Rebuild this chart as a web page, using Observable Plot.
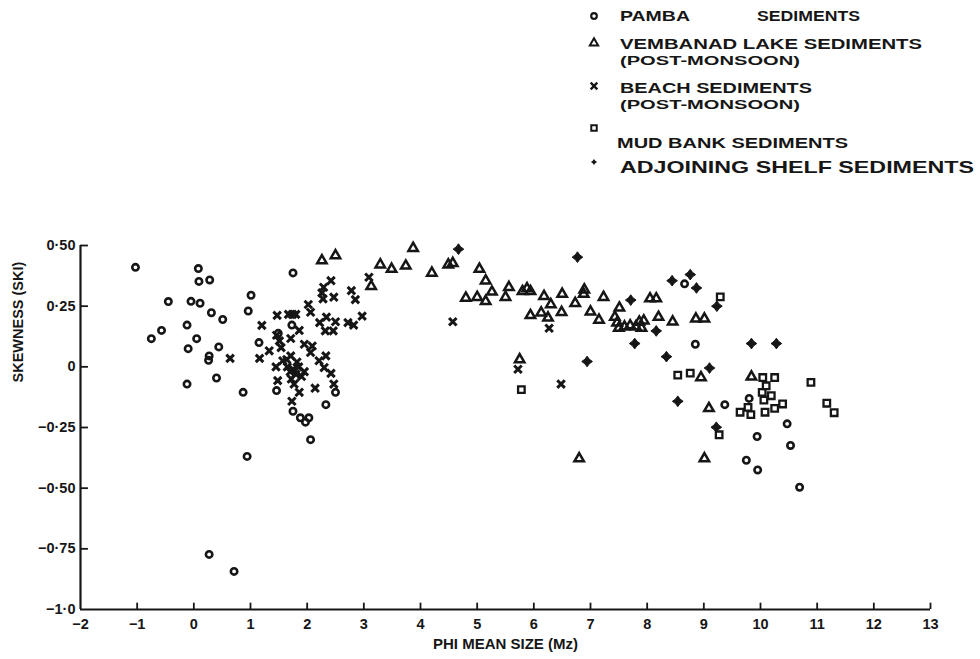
<!DOCTYPE html>
<html><head><meta charset="utf-8">
<script src="https://cdn.jsdelivr.net/npm/d3@7"></script>
<script src="https://cdn.jsdelivr.net/npm/@observablehq/plot@0.6"></script>
<style>
html,body{margin:0;padding:0;background:#fff;}
#legend{display:block;}
#chart svg{display:block;}
</style></head><body>
<svg id="legend" width="980" height="200"></svg>
<div id="chart"></div>
<script>
// ---- tick labels ----
const xTicks = [-2,-1,0,1,2,3,4,5,6,7,8,9,10,11,12,13];
const xTickLabels = ["−2","−1","0","1","2","3","4","5","6","7","8","9","10","11","12","13"];
const yTicks = [-1,-0.75,-0.5,-0.25,0,0.25,0.5];
const yTickLabels = ["−1·0","−0·75","−0·50","−0·25","0","0·25","0·50"];
const xTitle = "PHI MEAN SIZE (Mz)";
const yTitle = "SKEWNESS (SKI)";

// ---- series (phi mean size, skewness) ----
const pamba = [
  [-1.03,0.41],[0.08,0.405],[0.09,0.352],[0.28,0.358],[-0.45,0.269],[-0.05,0.27],[0.11,0.262],
  [0.31,0.223],[0.51,0.195],[1.01,0.295],[0.96,0.23],[1.75,0.387],[-0.57,0.15],[-0.75,0.116],
  [-0.12,0.172],[0.05,0.116],[-0.1,0.075],[0.44,0.082],[0.27,0.045],[0.26,0.027],[0.40,-0.046],
  [-0.12,-0.071],[0.87,-0.105],[1.15,0.10],[1.73,0.172],[1.49,0.138],[1.46,-0.098],[1.75,-0.183],
  [1.88,-0.21],[1.97,-0.228],[2.03,-0.21],[2.50,-0.105],[2.33,-0.156],[2.06,-0.30],[0.94,-0.369],
  [0.27,-0.773],[0.71,-0.843],
  [8.66,0.342],[8.85,0.093],[9.80,-0.13],[9.37,-0.156],[10.47,-0.235],[9.94,-0.287],[10.53,-0.324],
  [9.75,-0.385],[9.95,-0.425],[10.69,-0.496]
];
const vembanad = [
  [2.26,0.438],[2.50,0.459],[3.13,0.332],[3.29,0.421],[3.49,0.403],[3.74,0.416],[3.87,0.489],
  [4.20,0.387],[4.49,0.421],[4.57,0.427],[4.80,0.284],[5.0,0.287],[5.04,0.403],[5.15,0.355],
  [5.15,0.270],[5.26,0.309],[5.50,0.287],[5.56,0.328],[5.80,0.311],[5.88,0.323],[5.94,0.311],
  [5.94,0.212],[6.13,0.223],[6.18,0.291],[6.25,0.202],[6.30,0.257],[6.49,0.225],[6.50,0.30],
  [6.73,0.262],[6.88,0.30],[6.89,0.318],[7.0,0.227],[7.15,0.193],[7.23,0.287],[7.43,0.205],
  [7.47,0.182],[7.51,0.243],[7.50,0.16],[7.60,0.165],[7.70,0.17],[7.80,0.165],[7.86,0.185],
  [7.94,0.19],[7.90,0.16],[8.05,0.281],[8.16,0.281],[8.20,0.205],[8.45,0.186],[8.86,0.198],
  [9.01,0.198],[5.75,0.03],[8.95,-0.044],[9.09,-0.171],[9.84,-0.041],[6.80,-0.378],[9.01,-0.378]
];
const beach = [
  [0.64,0.035],[1.16,0.035],[1.20,0.171],[1.33,0.066],[1.45,0.0],[1.46,0.13],[1.47,0.212],
  [1.48,-0.057],[1.51,0.107],[1.54,0.079],[1.57,0.025],[1.64,0.03],[1.67,0.216],[1.71,0.117],
  [1.71,0.045],[1.74,0.216],[1.80,0.216],[1.86,0.15],[1.65,0.0],[1.70,-0.02],[1.75,-0.01],
  [1.80,-0.03],[1.85,0.0],[1.90,-0.04],[1.72,-0.05],[1.82,0.02],[1.95,-0.02],[1.77,-0.071],
  [1.86,-0.105],[1.73,-0.142],[1.95,0.093],[2.09,0.086],[2.06,0.059],[2.02,0.257],[2.06,0.225],
  [2.14,-0.088],[2.22,0.182],[2.21,0.025],[2.26,0.305],[2.28,0.28],[2.29,0.328],[2.30,-0.003],
  [2.32,0.148],[2.33,0.045],[2.34,0.205],[2.42,0.355],[2.42,-0.027],[2.46,0.148],[2.47,0.287],
  [2.47,-0.071],[2.50,0.186],[2.72,0.182],[2.78,0.314],[2.82,0.172],[2.85,0.277],[2.97,0.209],
  [3.09,0.369],[4.57,0.186],[5.72,-0.01],[6.27,0.159],[6.48,-0.071]
];
const mudBank = [
  [5.78,-0.094],[8.54,-0.034],[8.76,-0.026],[9.29,0.288],[9.27,-0.28],[9.64,-0.187],[9.78,-0.167],
  [9.83,-0.197],[10.04,-0.044],[10.25,-0.044],[10.10,-0.078],[10.03,-0.105],[10.19,-0.119],
  [10.06,-0.137],[10.08,-0.187],[10.25,-0.171],[10.39,-0.153],[10.89,-0.064],[11.17,-0.15],[11.30,-0.189]
];
const shelf = [
  [4.67,0.485],[6.77,0.452],[6.94,0.022],[7.71,0.275],[7.78,0.096],[8.16,0.148],[8.34,0.042],
  [8.44,0.355],[8.76,0.38],[8.87,0.325],[9.23,0.25],[9.10,-0.005],[8.54,-0.142],[9.22,-0.249],
  [9.84,0.096],[10.28,0.096]
];

// ---- legend entries ----
const legendLines = [
  {sym:"ring", lines:["PAMBA", "SEDIMENTS"]},
  {sym:"triangle", lines:["VEMBANAD LAKE SEDIMENTS","(POST-MONSOON)"]},
  {sym:"times", lines:["BEACH SEDIMENTS","(POST-MONSOON)"]},
  {sym:"square", lines:["MUD BANK SEDIMENTS"]},
  {sym:"star4", lines:["ADJOINING SHELF SEDIMENTS"]}
];

const ink = "#161616";
const font = "'Liberation Sans',Arial,sans-serif";
const star4 = {draw(ctx, size){
  const r = Math.sqrt(size) * 0.72, s = r * 0.42;
  ctx.moveTo(0,-r); ctx.lineTo(s,-s); ctx.lineTo(r,0); ctx.lineTo(s,s);
  ctx.lineTo(0,r); ctx.lineTo(-s,s); ctx.lineTo(-r,0); ctx.lineTo(-s,-s); ctx.closePath();
}};

const toObj = (arr) => arr.map(([x,y]) => ({x,y}));

const chart = Plot.plot({
  width: 980, height: 459,
  marginLeft: 80, marginRight: 50, marginTop: 45, marginBottom: 50,
  style: {fontFamily: font, fontWeight: "bold", color: ink, background: "#fff", overflow: "visible"},
  x: {domain: [-2, 13]},
  y: {domain: [-1, 0.5]},
  marks: [
    Plot.ruleX([xTicks[0]], {y1: yTicks[0], y2: yTicks[yTicks.length-1], stroke: ink, strokeWidth: 2.2}),
    Plot.ruleY([yTicks[0]], {x1: xTicks[0], x2: xTicks[xTicks.length-1], stroke: ink, strokeWidth: 2.2}),
    Plot.ruleX(xTicks.slice(1), {x: d => d, y1: yTicks[0], y2: yTicks[0] + 0.026, stroke: ink, strokeWidth: 1.8}),
    Plot.ruleY(yTicks.slice(1), {y: d => d, x1: xTicks[0], x2: xTicks[0] + 0.14, stroke: ink, strokeWidth: 1.8}),
    Plot.axisX({ticks: xTicks, tickSize: 0, tickPadding: 9, fontSize: 14.5,
      tickFormat: d => xTickLabels[xTicks.indexOf(d)], label: null}),
    Plot.axisY({ticks: yTicks, tickSize: 0, tickPadding: 5, fontSize: 14.5,
      tickFormat: d => yTickLabels[yTicks.indexOf(d)], label: null}),
    Plot.text([xTitle], {frameAnchor: "bottom", text: d => d, dy: 39, fontSize: 15, fill: ink}),
    Plot.text([yTitle], {frameAnchor: "left", text: d => d, rotate: -90, dx: -62, dy: -45, fontSize: 14.5, fill: ink}),
    Plot.dot(toObj(pamba), {x: "x", y: "y", r: 3.2, stroke: ink, strokeWidth: 2.6, fill: "none"}),
    Plot.dot(toObj(vembanad), {x: "x", y: "y", symbol: "triangle", r: 3.5, stroke: ink, strokeWidth: 2.5, fill: "none"}),
    Plot.dot(toObj(beach), {x: "x", y: "y", symbol: "times", r: 3.5, stroke: ink, strokeWidth: 3}),
    Plot.dot(toObj(mudBank), {x: "x", y: "y", symbol: "square", r: 3.7, stroke: ink, strokeWidth: 2.3, fill: "none"}),
    Plot.dot(toObj(shelf), {x: "x", y: "y", symbol: star4, r: 4.2, fill: ink, stroke: ink, strokeWidth: 1})
  ]
});
document.getElementById("chart").appendChild(chart);

// ---- legend (above the chart svg) ----
const L = d3.select("#legend").style("font-family", font).style("font-weight", "bold");
const markerX = 594, textX = 620;
const rows = [
  {y:16, texts:[{x:textX, y:21, w:70, fs:14},{x:757, y:21, w:103, fs:14}]},
  {y:43, texts:[{x:textX, y:49, w:302, fs:14},{x:textX, y:65, w:180, fs:13}]},
  {y:86, texts:[{x:textX, y:93, w:192, fs:14},{x:textX, y:109, w:180, fs:13}]},
  {y:128, texts:[{x:textX-3, y:148, w:231, fs:14}]},
  {y:162, texts:[{x:textX, y:173, w:354, fs:17}]}
];
const symMap = {triangle: d3.symbolTriangle, times: d3.symbolTimes, square: d3.symbolSquare};
rows.forEach((row, i) => {
  const e = legendLines[i];
  const g = L.append("g").attr("transform", `translate(${markerX},${row.y})`);
  if (e.sym === "ring") g.append("circle").attr("r", 2.8).attr("fill","none").attr("stroke",ink).attr("stroke-width",2.2);
  else if (e.sym === "star4") g.append("path").attr("d", d3.symbol(star4, 18)()).attr("fill", ink);
  else g.append("path").attr("d", d3.symbol(symMap[e.sym], 30)()).attr("fill","none").attr("stroke",ink).attr("stroke-width", e.sym==="times"?2.4:2);
  row.texts.forEach((tx, j) => {
    L.append("text").attr("x", tx.x).attr("y", tx.y).attr("font-size", tx.fs)
      .attr("fill", ink).attr("textLength", tx.w).attr("lengthAdjust", "spacingAndGlyphs")
      .text(e.lines[j]);
  });
});
</script>
</body></html>
